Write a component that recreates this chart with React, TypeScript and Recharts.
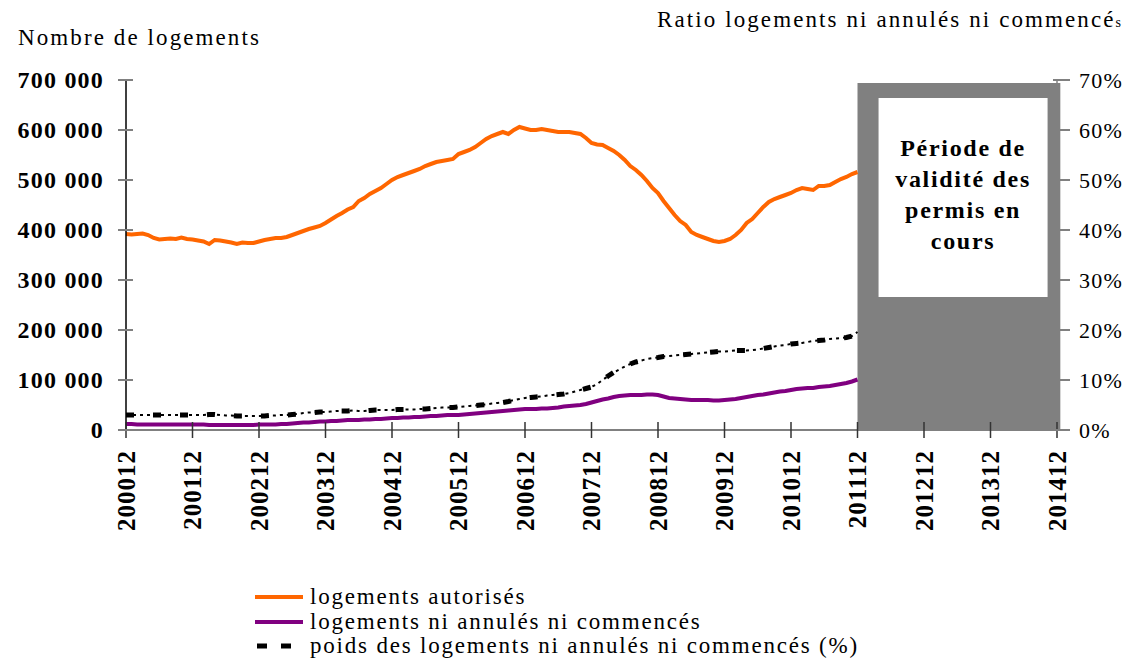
import { ComposedChart, Line, XAxis, YAxis, ReferenceArea } from 'recharts';

// x labels, one tick per year (month index 0 = 200012)
const tickLabels = ['200012', '200112', '200212', '200312', '200412', '200512', '200612', '200712', '200812', '200912', '201012', '201112', '201212', '201312', '201412'];

// logements autorisés, en milliers (mensuel, 200012 -> 201112)
const autorises = [
  392, 391, 392, 393, 390, 384, 381, 382, 383, 382, 385, 382,
  381, 379, 377, 372, 380, 379, 377, 375, 372, 375, 374, 374,
  377, 380, 382, 384, 384, 386, 390, 394, 398, 402, 405, 408,
  414, 421, 428, 434, 441, 446, 458, 464, 472, 478, 484, 492,
  500, 506, 510, 514, 518, 522, 528, 532, 536, 538, 540, 542,
  552, 556, 560, 566, 574, 582, 588, 592, 596, 592, 600, 606,
  603, 600, 600, 602, 600, 598, 596, 596, 596, 594, 592, 584,
  574, 571, 570, 564, 558, 550, 540, 528, 520, 510, 498, 484,
  474, 458, 444, 430, 418, 410, 396, 390, 386, 382, 378, 376,
  378, 382, 390, 400, 414, 422, 434, 446, 456, 462, 466, 470,
  474, 480, 484, 482, 480, 488, 488, 490, 496, 502, 506, 512,
  516,
];

// logements ni annulés ni commencés, en milliers
const nonCommences = [
  12, 12, 11, 11, 11, 11, 11, 11, 11, 11, 11, 11,
  11, 11, 11, 10, 10, 10, 10, 10, 10, 10, 10, 10,
  11, 11, 11, 11, 12, 12, 13, 14, 15, 15, 16, 17,
  17, 18, 18, 19, 20, 20, 20, 21, 21, 22, 22, 23,
  24, 24, 25, 25, 26, 26, 27, 28, 28, 29, 30, 30,
  30, 31, 32, 33, 34, 35, 36, 37, 38, 39, 40, 41,
  42, 42, 42, 43, 43, 44, 45, 47, 48, 49, 50, 52,
  55, 58, 61, 63, 66, 68, 69, 70, 70, 70, 71, 71,
  70, 67, 64, 63, 62, 61, 60, 60, 60, 60, 59, 59,
  60, 61, 62, 64, 66, 68, 70, 71, 73, 75, 77, 78,
  80, 82, 83, 84, 84, 86, 87, 88, 90, 92, 94, 97,
  101,
];

// poids des logements ni annulés ni commencés (%)
const poids = [
  3.0, 3.0, 3.0, 3.0, 3.0, 3.0, 3.0, 3.0, 3.0, 3.0, 3.0, 3.0,
  3.0, 3.0, 3.0, 3.1, 3.1, 3.0, 2.9, 2.9, 2.8, 2.8, 2.8, 2.8,
  2.8, 2.8, 2.9, 2.9, 3.0, 3.0, 3.1, 3.2, 3.4, 3.5, 3.5, 3.6,
  3.6, 3.7, 3.8, 3.8, 3.8, 3.9, 3.8, 3.8, 3.9, 4.0, 4.0, 4.0,
  4.0, 4.1, 4.1, 4.1, 4.1, 4.2, 4.2, 4.3, 4.4, 4.5, 4.5, 4.5,
  4.6, 4.7, 4.8, 4.9, 5.0, 5.1, 5.3, 5.4, 5.5, 5.7, 6.0, 6.2,
  6.4, 6.5, 6.6, 6.7, 6.9, 7.0, 7.1, 7.2, 7.4, 7.7, 8.0, 8.3,
  8.6, 9.2, 10.0, 10.8, 11.5, 12.1, 12.7, 13.2, 13.6, 13.9, 14.2, 14.4,
  14.5, 14.7, 14.8, 14.9, 15.0, 15.1, 15.2, 15.3, 15.4, 15.5, 15.6, 15.7,
  15.7, 15.8, 15.9, 15.9, 15.9, 16.0, 16.1, 16.3, 16.5, 16.7, 16.9, 17.0,
  17.2, 17.3, 17.4, 17.6, 17.8, 17.9, 18.0, 18.2, 18.3, 18.4, 18.5, 18.8,
  19.6,
];

const leftTicks = [0, 100000, 200000, 300000, 400000, 500000, 600000, 700000];
const rightTicks = [0, 10, 20, 30, 40, 50, 60, 70];

const data = autorises.map((v, i) => ({
  m: i,
  autorises: v * 1000,
  nonCommences: nonCommences[i] * 1000,
  poids: poids[i],
}));

const serif = '"Liberation Serif", "Times New Roman", serif';

const fmtLeft = (v: number) => (v === 0 ? '0' : `${v / 1000} 000`);

const LeftTick = (props: any) => {
  const { y, payload } = props;
  return (
    <g>
      <line x1={118} x2={133} y1={y} y2={y} stroke='#808080' strokeWidth={2} />
      <text x={104} y={y} textAnchor='end' dominantBaseline='central' fontFamily={serif} fontWeight='bold' fontSize={24} letterSpacing={1.2} fill='#000'>
        {fmtLeft(payload.value)}
      </text>
    </g>
  );
};

const RightTick = (props: any) => {
  const { y, payload } = props;
  return (
    <g>
      <line x1={1053} x2={1070} y1={y} y2={y} stroke='#808080' strokeWidth={2} />
      <text x={1079} y={y} textAnchor='start' dominantBaseline='central' fontFamily={serif} fontSize={22} letterSpacing={1.2} fill='#000'>
        {payload.value}%
      </text>
    </g>
  );
};

const BottomTick = (props: any) => {
  const { x, payload } = props;
  return (
    <g>
      <line x1={x} x2={x} y1={422} y2={438} stroke='#333' strokeWidth={1.5} />
      <text x={0} y={0} transform={`translate(${x},450) rotate(-90)`} textAnchor='end' dominantBaseline='central' fontFamily={serif} fontWeight='bold' fontSize={25} letterSpacing={1} fill='#000'>
        {tickLabels[payload.value / 12]}
      </text>
    </g>
  );
};

const BoxLabel = (props: any) => {
  const vb = props.viewBox || {};
  const cx = vb.x + vb.width / 2;
  const lines = ['Période de', 'validité des', 'permis en', 'cours'];
  return (
    <text fontFamily={serif} fontWeight='bold' fontSize={24} letterSpacing={1.7} fill='#000' textAnchor='middle'>
      {lines.map((l, k) => (
        <tspan key={k} x={cx} y={156 + k * 31}>{l}</tspan>
      ))}
    </text>
  );
};

const textStyle: any = {
  position: 'absolute',
  fontFamily: serif,
  fontSize: 23,
  letterSpacing: 2.1,
  color: '#000',
  whiteSpace: 'nowrap',
  lineHeight: '26px',
};

export default function App() {
  return (
    <div style={{ position: 'absolute', left: 0, top: 0, width: 1130, height: 663, background: '#fff' }}>
      <div style={{ ...textStyle, left: 18, top: 25 }}>Nombre de logements</div>
      <div style={{ ...textStyle, left: 657, top: 7 }}>
        Ratio logements ni annulés ni commencé<span style={{ fontSize: 14 }}>s</span>
      </div>
      <ComposedChart width={1130} height={663} data={data} margin={{ top: 80, right: 0, bottom: 0, left: 0 }}>
        <XAxis
          dataKey='m'
          type='number'
          domain={[0, 168]}
          ticks={tickLabels.map((_, k) => k * 12)}
          tick={<BottomTick />}
          tickLine={false}
          axisLine={{ stroke: '#808080', strokeWidth: 2 }}
          height={233}
          interval={0}
        />
        <YAxis
          yAxisId='left'
          domain={[0, 700000]}
          ticks={leftTicks}
          tick={<LeftTick />}
          tickLine={false}
          axisLine={{ stroke: '#000', strokeWidth: 1.5 }}
          width={126}
          interval={0}
        />
        <YAxis
          yAxisId='right'
          orientation='right'
          domain={[0, 70]}
          ticks={rightTicks}
          tick={<RightTick />}
          tickLine={false}
          axisLine={{ stroke: '#808080', strokeWidth: 1.5 }}
          width={73}
          interval={0}
        />
        <Line yAxisId='left' dataKey='autorises' stroke='#FF6600' strokeWidth={4} dot={false} isAnimationActive={false} />
        <Line yAxisId='left' dataKey='nonCommences' stroke='#800080' strokeWidth={4} dot={false} isAnimationActive={false} />
        <Line yAxisId='right' dataKey='poids' stroke='#000' strokeWidth={2} strokeDasharray='3 4' dot={false} isAnimationActive={false} />
        <Line yAxisId='right' dataKey='poids' stroke='#000' strokeWidth={5} strokeDasharray='8 19' dot={false} isAnimationActive={false} legendType='none' />
        <ReferenceArea yAxisId='left' x1={132} x2={168.6} y1={0} y2={694000} fill='#808080' fillOpacity={1} stroke='none' ifOverflow='visible' />
        <ReferenceArea yAxisId='left' x1={135.8} x2={166.3} y1={266000} y2={664000} fill='#fff' fillOpacity={1} stroke='none' ifOverflow='visible' label={<BoxLabel />} />
      </ComposedChart>
      <div style={{ position: 'absolute', left: 255, top: 585 }}>
        {[
          { name: 'logements autorisés', color: '#FF6600', dash: false },
          { name: 'logements ni annulés ni commencés', color: '#800080', dash: false },
          { name: 'poids des logements ni annulés ni commencés (%)', color: '#000', dash: true },
        ].map((it) => (
          <div key={it.name} style={{ display: 'flex', alignItems: 'center', height: 24.5 }}>
            <svg width={52} height={10} style={{ marginRight: 3 }}>
              {it.dash ? (
                <line x1={2} x2={46} y1={5} y2={5} stroke='#000' strokeWidth={5} strokeDasharray='10 14' />
              ) : (
                <line x1={0} x2={48} y1={5} y2={5} stroke={it.color} strokeWidth={4} />
              )}
            </svg>
            <span style={{ fontFamily: serif, fontSize: 23, letterSpacing: 1.8, whiteSpace: 'nowrap', lineHeight: '24px' }}>{it.name}</span>
          </div>
        ))}
      </div>
    </div>
  );
}
